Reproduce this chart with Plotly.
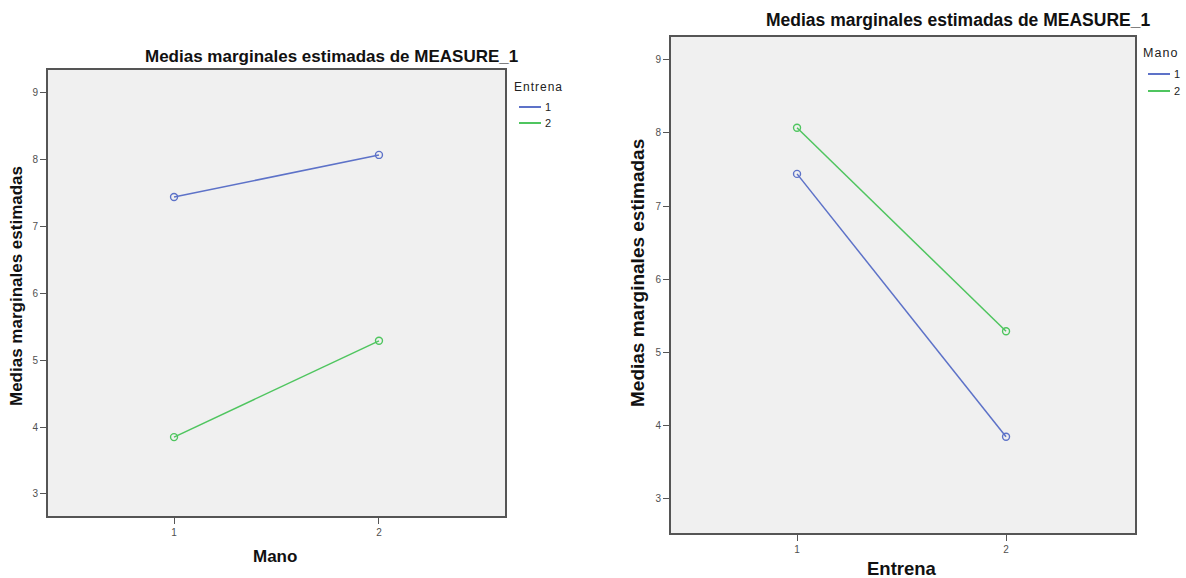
import plotly.graph_objects as go

# Estimated marginal means of MEASURE_1 by factor levels
mano_levels = [1, 2]
entrena_levels = [1, 2]
means_entrena_1 = [7.44, 8.07]   # Entrena = 1, for Mano = 1, 2
means_entrena_2 = [3.85, 5.29]   # Entrena = 2, for Mano = 1, 2
y_ticks = [3, 4, 5, 6, 7, 8, 9]
legend_labels = ["1", "2"]

# Same cell means regrouped by Mano
means_mano_1 = [means_entrena_1[0], means_entrena_2[0]]
means_mano_2 = [means_entrena_1[1], means_entrena_2[1]]

BLUE = "#5d72c8"
GREEN = "#4fc55f"
FONT = "Liberation Sans"
TITLE = "Medias marginales estimadas de MEASURE_1"
YTITLE = "Medias marginales estimadas"
W, H = 1186, 578
HS = "\u200a"  # hair space, used to open up the legend titles

fig = go.Figure()


def add_series(x, y, color, xa, ya):
    fig.add_trace(go.Scatter(
        x=x, y=y, mode="lines+markers", xaxis=xa, yaxis=ya,
        line=dict(color=color, width=1.5),
        marker=dict(symbol="circle-open", size=7, color=color, line=dict(width=1.4)),
        showlegend=False, hoverinfo="x+y",
    ))


add_series(mano_levels, means_entrena_1, BLUE, "x", "y")
add_series(mano_levels, means_entrena_2, GREEN, "x", "y")
add_series(entrena_levels, means_mano_1, BLUE, "x2", "y2")
add_series(entrena_levels, means_mano_2, GREEN, "x2", "y2")

axis_common = dict(
    showgrid=False, zeroline=False, showline=True, mirror=True,
    linecolor="#555555", linewidth=2, ticks="outside", ticklen=6,
    tickwidth=1.4, tickcolor="#555555",
    tickfont=dict(family=FONT, size=10, color="#505050"),
)

fig.update_layout(
    width=W, height=H,
    margin=dict(l=0, r=0, t=0, b=0),
    paper_bgcolor="white",
    plot_bgcolor="#f0f0f0",
    font=dict(family=FONT),
    showlegend=False,
    xaxis=dict(domain=[48 / W, 505 / W], range=[0.385, 2.615],
               tickvals=mano_levels, **axis_common),
    yaxis=dict(domain=[1 - 516 / H, 1 - 70 / H], range=[2.67, 9.34],
               tickvals=y_ticks, **axis_common),
    xaxis2=dict(domain=[671 / W, 1135 / W], range=[0.397, 2.617],
                tickvals=entrena_levels, anchor="y2", **axis_common),
    yaxis2=dict(domain=[1 - 533 / H, 1 - 37 / H], range=[2.535, 9.31],
                tickvals=y_ticks, anchor="x2", **axis_common),
)


def text(s, x, y, size, angle=0, color="#111111", xanchor="center"):
    fig.add_annotation(text=s, x=x / W, y=1 - y / H, xref="paper", yref="paper",
                       xanchor=xanchor, yanchor="middle", textangle=angle,
                       showarrow=False, font=dict(family=FONT, size=size, color=color))


# chart titles and axis titles
text(f"<b>{TITLE}</b>", 331, 57, 17)
text(f"<b>{TITLE}</b>", 958, 20, 17.5)
text(f"<b>{YTITLE}</b>", 16, 286, 17, angle=-90)
text(f"<b>{YTITLE}</b>", 637, 273, 19, angle=-90)
text("<b>Mano</b>", 275, 556, 17)
text("<b>Entrena</b>", 902, 568, 18.5)


# legend blocks: title, then a short line sample and label per series
def legend(title, x, y_title, y_items, size):
    text(HS.join(title), x, y_title, size, color="#222222", xanchor="left")
    for label, color, yi in zip(legend_labels, [BLUE, GREEN], y_items):
        fig.add_shape(type="line", xref="paper", yref="paper",
                      x0=(x + 7) / W, x1=(x + 29) / W, y0=1 - yi / H, y1=1 - yi / H,
                      line=dict(color=color, width=2))
        text(label, x + 31, yi, 11, color="#222222", xanchor="left")


legend("Entrena", 512, 87, [107, 123], 12)
legend("Mano", 1141, 53, [74, 91], 12.5)

fig.write_html("out.html")
